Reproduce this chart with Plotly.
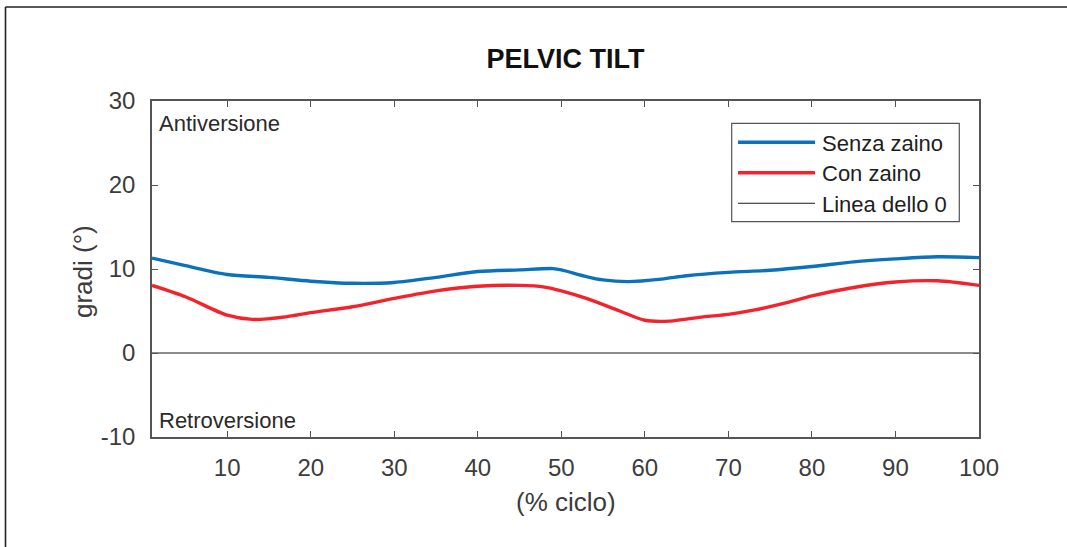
import plotly.graph_objects as go

# Gait cycle percentage and pelvic tilt angles (degrees)
cycle_pct = [1, 5, 10, 15, 20, 25, 30, 35, 40, 45, 49, 50, 53, 55, 58, 62, 65, 70, 75, 80, 85, 90, 95, 100]
senza_zaino = [11.3, 10.4, 9.35, 9.0, 8.55, 8.3, 8.4, 9.0, 9.7, 9.9, 10.05, 9.9, 9.1, 8.7, 8.5, 8.8, 9.2, 9.6,
               9.85, 10.3, 10.85, 11.2, 11.45, 11.35]

cycle_pct_con = [1, 5, 10, 13, 17, 20, 25, 30, 35, 40, 45, 48, 50, 53, 57, 60, 63, 67, 70, 73, 77, 80, 85, 90, 95, 100]
con_zaino = [8.05, 6.7, 4.5, 4.0, 4.3, 4.8, 5.5, 6.5, 7.4, 7.95, 8.05, 7.85, 7.4, 6.5, 5.0, 3.9, 3.8, 4.3, 4.6,
             5.1, 6.0, 6.8, 7.8, 8.45, 8.6, 8.05]

zero_x = [1, 100]
zero_y = [0, 0]

x_ticks = [10, 20, 30, 40, 50, 60, 70, 80, 90, 100]
y_ticks = [-10, 0, 10, 20, 30]
y_tick_text = ["-10", "0", "10", "20", "30"]

series_names = ["Senza zaino", "Con zaino", "Linea dello 0"]
BLUE = "#0a72bd"
RED = "#f4222a"
BLACK = "#1a1a1a"

W, H = 1067, 547
ML, MR, MT, MB = 152, 88, 101, 110
PW, PH = W - ML - MR, H - MT - MB


def px_x(p):
    return (p - ML) / PW


def px_y(p):
    return 1 - (p - MT) / PH


FONT = "Liberation Sans, Arial, sans-serif"
GRAY = "#3c3c3c"

fig = go.Figure()
fig.add_trace(go.Scatter(x=cycle_pct, y=senza_zaino, mode="lines", name=series_names[0],
                         line=dict(color=BLUE, width=3.4, shape="spline", smoothing=0.8)))
fig.add_trace(go.Scatter(x=cycle_pct_con, y=con_zaino, mode="lines", name=series_names[1],
                         line=dict(color=RED, width=3.4, shape="spline", smoothing=0.8)))
fig.add_trace(go.Scatter(x=zero_x, y=zero_y, mode="lines", name=series_names[2],
                         line=dict(color=BLACK, width=1.1)))

axis_common = dict(
    showgrid=False, zeroline=False, showline=True, linecolor="#555555", linewidth=1.5,
    mirror="ticks", ticks="inside", ticklen=6, tickwidth=1.2, tickcolor="#555555",
    tickfont=dict(family=FONT, size=24, color=GRAY),
)
fig.update_xaxes(range=[1, 100], tickvals=x_ticks, ticklabelstandoff=8, **axis_common)
fig.update_yaxes(range=[-10, 30], tickvals=y_ticks, ticktext=y_tick_text, ticklabelstandoff=10, **axis_common)

# Legend box drawn with shapes so the line samples have the longer length
leg_x0, leg_x1, leg_y0, leg_y1 = 731.7, 959.3, 123.3, 221.7
shapes = [
    dict(type="rect", xref="paper", yref="paper", x0=px_x(leg_x0), x1=px_x(leg_x1),
         y0=px_y(leg_y1), y1=px_y(leg_y0), line=dict(color="#555555", width=1.2), fillcolor="white"),
    # outer frame (left and top edges)
    dict(type="line", xref="paper", yref="paper", x0=px_x(5.5), x1=px_x(5.5), y0=px_y(7), y1=px_y(560),
         line=dict(color="#222222", width=1.6)),
    dict(type="line", xref="paper", yref="paper", x0=px_x(5.5), x1=px_x(1080), y0=px_y(7), y1=px_y(7),
         line=dict(color="#222222", width=1.6)),
]
annotations = []
row_y = [142.3, 172.8, 203.3]
row_colors = [BLUE, RED, BLACK]
row_widths = [3.4, 3.4, 1.1]
for name, ry, col, lw in zip(series_names, row_y, row_colors, row_widths):
    shapes.append(dict(type="line", xref="paper", yref="paper", x0=px_x(738), x1=px_x(815),
                       y0=px_y(ry), y1=px_y(ry), line=dict(color=col, width=lw)))
    annotations.append(dict(text=name, xref="paper", yref="paper", x=px_x(820), y=px_y(ry + 1),
                            xanchor="left", yanchor="middle", showarrow=False,
                            font=dict(family=FONT, size=22, color="#1e1e1e")))

annotations += [
    dict(text="Antiversione", xref="paper", yref="paper", x=px_x(157), y=px_y(123), xanchor="left",
         yanchor="middle", showarrow=False, font=dict(family=FONT, size=22, color="#2a2a2a")),
    dict(text="Retroversione", xref="paper", yref="paper", x=px_x(157), y=px_y(420), xanchor="left",
         yanchor="middle", showarrow=False, font=dict(family=FONT, size=22, color="#2a2a2a")),
    dict(text="(% ciclo)", xref="paper", yref="paper", x=0.5, y=px_y(502), xanchor="center",
         yanchor="middle", showarrow=False, font=dict(family=FONT, size=26, color=GRAY)),
    dict(text="gradi (°)", xref="paper", yref="paper", x=px_x(83), y=px_y(272), xanchor="center",
         yanchor="middle", textangle=-90, showarrow=False, font=dict(family=FONT, size=26, color=GRAY)),
]

fig.update_layout(
    width=W, height=H,
    margin=dict(l=ML, r=MR, t=MT, b=MB),
    paper_bgcolor="white", plot_bgcolor="white",
    showlegend=False,
    title=dict(text="<b>PELVIC TILT</b>", x=0.5, xref="paper", y=1 - 59 / H, yref="container",
               xanchor="center", yanchor="middle", font=dict(family=FONT, size=27, color="#111111")),
    shapes=shapes,
    annotations=annotations,
)

fig.write_html("out.html")
